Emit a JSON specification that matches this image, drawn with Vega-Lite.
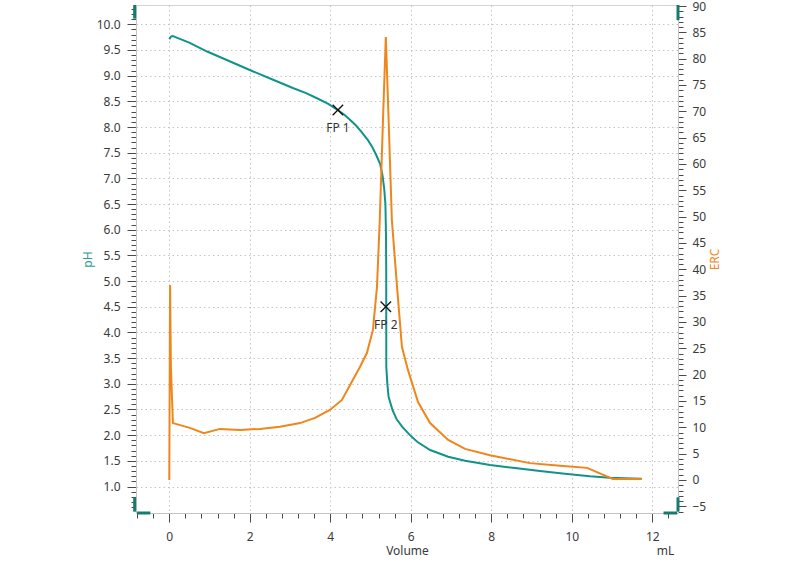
{
  "$schema": "https://vega.github.io/schema/vega-lite/v6.json",
  "width": 542,
  "height": 508,
  "autosize": {"type": "none"},
  "padding": {"left": 136, "top": 5, "right": 122, "bottom": 51},
  "background": "white",
  "config": {
    "font": "Noto Sans",
    "view": {"stroke": "#d4d4d4", "strokeWidth": 1},
    "axis": {
      "labelFont": "Noto Sans",
      "labelFontSize": 12,
      "labelColor": "#3a3a3a",
      "titleFont": "Noto Sans",
      "titleFontSize": 12,
      "titleFontWeight": "normal",
      "domainColor": "#c4c4c4",
      "tickColor": "#4a4a4a",
      "gridColor": "#c4c4c4",
      "gridDash": [1.5, 3],
      "gridWidth": 1
    }
  },
  "datasets": {
    "ph": [
      {"v": 0.0, "ph": 9.71}, {"v": 0.04, "ph": 9.76}, {"v": 0.09, "ph": 9.77}, {"v": 0.17, "ph": 9.745}, {"v": 0.51, "ph": 9.64},
      {"v": 0.94, "ph": 9.47}, {"v": 1.5, "ph": 9.28}, {"v": 2.0, "ph": 9.11}, {"v": 2.55, "ph": 8.93},
      {"v": 3.07, "ph": 8.76}, {"v": 3.4, "ph": 8.66}, {"v": 3.67, "ph": 8.56}, {"v": 3.95, "ph": 8.45}, {"v": 4.17, "ph": 8.34}, {"v": 4.35, "ph": 8.24}, {"v": 4.49, "ph": 8.14},
      {"v": 4.64, "ph": 8.03}, {"v": 4.77, "ph": 7.91}, {"v": 4.94, "ph": 7.74}, {"v": 5.05, "ph": 7.6}, {"v": 5.15, "ph": 7.44}, {"v": 5.24, "ph": 7.28},
      {"v": 5.3, "ph": 7.05}, {"v": 5.34, "ph": 6.8}, {"v": 5.37, "ph": 6.5}, {"v": 5.385, "ph": 5.9}, {"v": 5.39, "ph": 5.2}, {"v": 5.392, "ph": 3.33},
      {"v": 5.42, "ph": 2.98}, {"v": 5.45, "ph": 2.74}, {"v": 5.55, "ph": 2.48}, {"v": 5.65, "ph": 2.31},
      {"v": 5.79, "ph": 2.16}, {"v": 5.98, "ph": 2.0}, {"v": 6.16, "ph": 1.87}, {"v": 6.48, "ph": 1.71},
      {"v": 6.93, "ph": 1.58}, {"v": 7.35, "ph": 1.5}, {"v": 7.97, "ph": 1.42}, {"v": 8.59, "ph": 1.36},
      {"v": 9.21, "ph": 1.3}, {"v": 9.83, "ph": 1.25}, {"v": 10.45, "ph": 1.2}, {"v": 10.95, "ph": 1.17},
      {"v": 11.32, "ph": 1.16}, {"v": 11.74, "ph": 1.15}
    ],
    "erc": [
      {"v": 0.0, "erc": 0.0}, {"v": 0.02, "erc": 37.0}, {"v": 0.04, "erc": 21.5}, {"v": 0.09, "erc": 10.8},
      {"v": 0.51, "erc": 9.9}, {"v": 0.86, "erc": 8.9}, {"v": 1.26, "erc": 9.7}, {"v": 1.76, "erc": 9.5},
      {"v": 2.25, "erc": 9.7}, {"v": 2.75, "erc": 10.1}, {"v": 3.25, "erc": 10.8}, {"v": 3.62, "erc": 11.8},
      {"v": 3.99, "erc": 13.3}, {"v": 4.29, "erc": 15.2}, {"v": 4.56, "erc": 19.0}, {"v": 4.74, "erc": 21.5},
      {"v": 4.91, "erc": 24.1}, {"v": 5.06, "erc": 28.5}, {"v": 5.16, "erc": 36.6}, {"v": 5.23, "erc": 49.4},
      {"v": 5.31, "erc": 68.4}, {"v": 5.38, "erc": 84.1}, {"v": 5.45, "erc": 68.4}, {"v": 5.53, "erc": 49.4},
      {"v": 5.66, "erc": 36.6}, {"v": 5.78, "erc": 25.3}, {"v": 5.93, "erc": 20.9}, {"v": 6.18, "erc": 14.8},
      {"v": 6.48, "erc": 10.8}, {"v": 6.93, "erc": 7.6}, {"v": 7.35, "erc": 5.9}, {"v": 7.97, "erc": 4.7},
      {"v": 8.96, "erc": 3.2}, {"v": 9.71, "erc": 2.7}, {"v": 10.38, "erc": 2.3}, {"v": 11.02, "erc": 0.2},
      {"v": 11.74, "erc": 0.2}
    ],
    "fp": [
      {"v": 4.19, "ph": 8.33, "label": "FP 1"},
      {"v": 5.38, "ph": 4.5, "label": "FP 2"}
    ],
    "handles": [
      {"x": -0.86, "x2": -0.86, "y": 10.376, "y2": 10.11},
      {"x": -0.86, "x2": -0.86, "y": 0.79, "y2": 0.51},
      {"x": -0.8, "x2": -0.47, "y": 0.484, "y2": 0.484},
      {"x": 12.28, "x2": 12.62, "y": 0.484, "y2": 0.484},
      {"x": 12.64, "x2": 12.64, "y": 0.79, "y2": 0.51},
      {"x": 12.64, "x2": 12.64, "y": 10.376, "y2": 10.08}
    ]
  },
  "layer": [
    {
      "data": {"name": "ph"},
      "mark": {"type": "line", "color": "#12938a", "strokeWidth": 2},
      "encoding": {
        "x": {
          "field": "v", "type": "quantitative",
          "scale": {"domain": [-0.827, 12.64], "nice": false, "zero": false},
          "axis": {
            "orient": "bottom",
            "title": "Volume",
            "titleColor": "#3a3a3a",
            "titleX": 271, "titleY": 37, "titleAlign": "center", "titleBaseline": "middle", "titleAnchor": null,
            "values": [-0.8,-0.4,0,0.4,0.8,1.2,1.6,2,2.4,2.8,3.2,3.6,4,4.4,4.8,5.2,5.6,6,6.4,6.8,7.2,7.6,8,8.4,8.8,9.2,9.6,10,10.4,10.8,11.2,11.6,12,12.4],
            "format": ".0f",
            "labelExpr": "abs(datum.value/2 - round(datum.value/2)) < 0.01 ? datum.label : ''",
            "tickSize": {"condition": {"test": "abs(datum.value/2 - round(datum.value/2)) < 0.01", "value": 9}, "value": 5},
            "gridOpacity": {"condition": {"test": "abs(datum.value/2 - round(datum.value/2)) < 0.01", "value": 1}, "value": 0},
            "grid": true,
            "labelPadding": 9,
            "labelFlush": false,
            "labelOverlap": false
          }
        },
        "y": {
          "field": "ph", "type": "quantitative",
          "scale": {"domain": [0.484, 10.376], "nice": false, "zero": false},
          "axis": {
            "orient": "left",
            "title": "pH",
            "titleColor": "#2a9d93",
            "titleX": -49, "titleY": 254, "titleAngle": 270, "titleAlign": "center", "titleBaseline": "middle", "titleAnchor": null,
            "values": [0.6,0.7,0.8,0.9,1,1.1,1.2,1.3,1.4,1.5,1.6,1.7,1.8,1.9,2,2.1,2.2,2.3,2.4,2.5,2.6,2.7,2.8,2.9,3,3.1,3.2,3.3,3.4,3.5,3.6,3.7,3.8,3.9,4,4.1,4.2,4.3,4.4,4.5,4.6,4.7,4.8,4.9,5,5.1,5.2,5.3,5.4,5.5,5.6,5.7,5.8,5.9,6,6.1,6.2,6.3,6.4,6.5,6.6,6.7,6.8,6.9,7,7.1,7.2,7.3,7.4,7.5,7.6,7.7,7.8,7.9,8,8.1,8.2,8.3,8.4,8.5,8.6,8.7,8.8,8.9,9,9.1,9.2,9.3,9.4,9.5,9.6,9.7,9.8,9.9,10,10.1,10.2,10.3],
            "format": ".1f",
            "labelExpr": "abs(datum.value*2 - round(datum.value*2)) < 0.01 ? datum.label : ''",
            "tickSize": {"condition": {"test": "abs(datum.value*2 - round(datum.value*2)) < 0.01", "value": 9}, "value": 5},
            "gridOpacity": {"condition": {"test": "abs(datum.value*2 - round(datum.value*2)) < 0.01", "value": 1}, "value": 0},
            "grid": true,
            "labelPadding": 7,
            "labelFlush": false,
            "labelOverlap": false
          }
        }
      }
    },
    {
      "data": {"name": "erc"},
      "mark": {"type": "line", "color": "#ef861b", "strokeWidth": 2},
      "encoding": {
        "x": {
          "field": "v", "type": "quantitative",
          "scale": {"domain": [-0.827, 12.64], "nice": false, "zero": false},
          "axis": {
            "orient": "bottom",
            "title": "mL",
            "titleColor": "#3a3a3a",
            "titleX": 529, "titleY": 37, "titleAlign": "center", "titleBaseline": "middle", "titleAnchor": null,
            "labels": false, "ticks": false, "domain": false, "grid": false
          }
        },
        "y": {
          "field": "erc", "type": "quantitative",
          "scale": {"domain": [-6.27, 90.19], "nice": false, "zero": false},
          "axis": {
            "orient": "right",
            "title": "ERC",
            "titleColor": "#ef861b",
            "titleX": 36, "titleY": 254, "titleAngle": 270, "titleAlign": "center", "titleBaseline": "middle", "titleAnchor": null,
            "values": [-6,-5,-4,-3,-2,-1,0,1,2,3,4,5,6,7,8,9,10,11,12,13,14,15,16,17,18,19,20,21,22,23,24,25,26,27,28,29,30,31,32,33,34,35,36,37,38,39,40,41,42,43,44,45,46,47,48,49,50,51,52,53,54,55,56,57,58,59,60,61,62,63,64,65,66,67,68,69,70,71,72,73,74,75,76,77,78,79,80,81,82,83,84,85,86,87,88,89,90],
            "format": "d",
            "labelExpr": "abs(datum.value/5 - round(datum.value/5)) < 0.01 ? datum.label : ''",
            "tickSize": {"condition": {"test": "abs(datum.value/5 - round(datum.value/5)) < 0.01", "value": 8}, "value": 5},
            "grid": false,
            "labelPadding": 6,
            "labelFlush": false,
            "labelOverlap": false
          }
        }
      }
    },
    {
      "data": {"name": "fp"},
      "mark": {"type": "point", "shape": "M-1,-1L1,1M-1,1L1,-1", "size": 110, "stroke": "#111111", "strokeWidth": 1.3, "filled": false, "opacity": 1},
      "encoding": {
        "x": {"field": "v", "type": "quantitative", "scale": {"domain": [-0.827, 12.64], "nice": false, "zero": false}, "axis": null},
        "y": {"field": "ph", "type": "quantitative", "scale": {"domain": [0.484, 10.376], "nice": false, "zero": false}, "axis": null}
      }
    },
    {
      "data": {"name": "fp"},
      "mark": {"type": "text", "dy": 18, "fontSize": 12, "font": "Noto Sans", "color": "#333333", "align": "center", "baseline": "middle"},
      "encoding": {
        "x": {"field": "v", "type": "quantitative", "scale": {"domain": [-0.827, 12.64], "nice": false, "zero": false}, "axis": null},
        "y": {"field": "ph", "type": "quantitative", "scale": {"domain": [0.484, 10.376], "nice": false, "zero": false}, "axis": null},
        "text": {"field": "label"}
      }
    },
    {
      "data": {"name": "handles"},
      "mark": {"type": "rule", "color": "#177a70", "strokeWidth": 3, "clip": false},
      "encoding": {
        "x": {"field": "x", "type": "quantitative", "scale": {"domain": [-0.827, 12.64], "nice": false, "zero": false}, "axis": null},
        "x2": {"field": "x2"},
        "y": {"field": "y", "type": "quantitative", "scale": {"domain": [0.484, 10.376], "nice": false, "zero": false}, "axis": null},
        "y2": {"field": "y2"}
      }
    }
  ],
  "resolve": {"scale": {"x": "independent", "y": "independent"}}
}
